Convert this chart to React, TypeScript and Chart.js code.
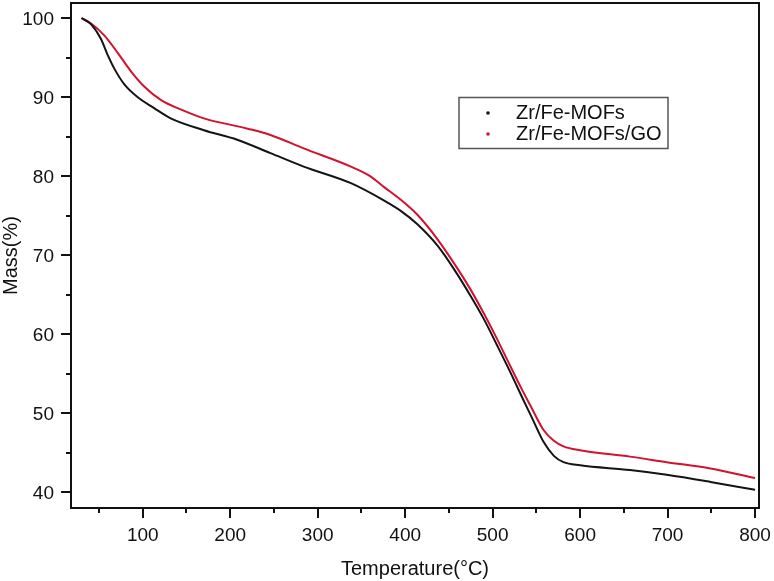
import React, { useEffect, useRef } from "react";
import { Chart, registerables } from "chart.js";

Chart.register(...registerables);

// Temperature (°C) and mass (%) readings
const blackT = [30, 41, 52, 60, 68, 79, 94, 113, 132, 170, 208, 246, 284, 338, 376, 395, 414, 437, 456, 475, 490, 505, 521, 535, 545, 558, 570, 581, 600, 657, 699, 749, 800];
const blackMass = [100, 99.2, 97.4, 95.3, 93.5, 91.6, 90.0, 88.6, 87.3, 85.8, 84.6, 82.9, 81.2, 79.1, 76.9, 75.6, 73.9, 71.2, 68.2, 64.8, 61.9, 58.6, 55.0, 51.7, 49.4, 46.4, 44.6, 43.8, 43.4, 42.8, 42.2, 41.3, 40.3];

const redT = [30, 41, 56, 72, 87, 102, 121, 144, 170, 220, 246, 284, 338, 360, 376, 395, 414, 437, 461, 475, 490, 505, 520, 533, 543, 558, 570, 581, 600, 657, 699, 749, 800];
const redMass = [100, 99.3, 97.8, 95.5, 93.2, 91.3, 89.6, 88.4, 87.3, 86.0, 85.2, 83.5, 81.2, 80.0, 78.6, 77.0, 75.1, 72.0, 68.1, 65.6, 62.6, 59.4, 56.0, 53.1, 51.0, 47.9, 46.5, 45.8, 45.3, 44.5, 43.8, 43.0, 41.8];

const seriesLabels = ["Zr/Fe-MOFs", "Zr/Fe-MOFs/GO"];
const seriesColors = ["#141414", "#d2122e"];

const xTicks = [50, 100, 150, 200, 250, 300, 350, 400, 450, 500, 550, 600, 650, 700, 750, 800];
const yTicks = [40, 45, 50, 55, 60, 65, 70, 75, 80, 85, 90, 95, 100];
const xMajorStep = 100;
const yMajorStep = 10;

const xTitle = "Temperature(°C)";
const yTitle = "Mass(%)";

const FONT = "Arial, 'Liberation Sans', sans-serif";

const framePlugin = {
  id: "frame",
  afterDraw(chart: any) {
    const { ctx, chartArea } = chart;
    const { left, right, top, bottom } = chartArea;
    const xs = chart.scales.x;
    const ys = chart.scales.y;
    ctx.save();
    ctx.strokeStyle = "#111";
    ctx.lineWidth = 2;
    ctx.strokeRect(left, top, right - left, bottom - top);
    ctx.beginPath();
    for (const v of xTicks) {
      const px = Math.round(xs.getPixelForValue(v));
      const len = v % xMajorStep === 0 ? 10 : 5;
      ctx.moveTo(px, bottom);
      ctx.lineTo(px, bottom + len);
    }
    for (const v of yTicks) {
      const py = Math.round(ys.getPixelForValue(v));
      const len = v % yMajorStep === 0 ? 10 : 5;
      ctx.moveTo(left, py);
      ctx.lineTo(left - len, py);
    }
    ctx.stroke();

    // tick labels
    ctx.fillStyle = "#111";
    ctx.font = `19px ${FONT}`;
    ctx.textBaseline = "alphabetic";
    ctx.textAlign = "center";
    for (const v of xTicks) {
      if (v % xMajorStep !== 0) continue;
      ctx.fillText(String(v), xs.getPixelForValue(v), bottom + 33);
    }
    ctx.textAlign = "right";
    for (const v of yTicks) {
      if (v % yMajorStep !== 0) continue;
      ctx.fillText(String(v), left - 17, ys.getPixelForValue(v) + 6.8);
    }

    // axis titles
    ctx.font = `20px ${FONT}`;
    ctx.textAlign = "center";
    ctx.fillText(xTitle, (left + right) / 2, 575);
    ctx.save();
    ctx.translate(17, (top + bottom) / 2);
    ctx.rotate(-Math.PI / 2);
    ctx.fillText(yTitle, 0, 0);
    ctx.restore();

    // legend
    ctx.strokeStyle = "#555";
    ctx.lineWidth = 1.5;
    ctx.strokeRect(459, 97.5, 209, 51);
    ctx.font = `20px ${FONT}`;
    ctx.textAlign = "left";
    ctx.textBaseline = "middle";
    chart.data.datasets.forEach((ds: any, i: number) => {
      const y = 113 + i * 21;
      ctx.fillStyle = ds.borderColor;
      ctx.beginPath();
      ctx.arc(488, y, 1.8, 0, Math.PI * 2);
      ctx.fill();
      ctx.fillStyle = "#111";
      ctx.fillText(ds.label, 516, y);
    });
    ctx.restore();
  },
};

export default function App() {
  const ref = useRef<HTMLCanvasElement>(null);
  useEffect(() => {
    const canvas = ref.current!;
    const chart = new Chart(canvas, {
      type: "line",
      data: {
        datasets: [
          {
            label: seriesLabels[0],
            data: blackT.map((t, i) => ({ x: t, y: blackMass[i] })),
            borderColor: seriesColors[0],
            backgroundColor: seriesColors[0],
            borderWidth: 2,
            pointRadius: 0,
            cubicInterpolationMode: "monotone",
          },
          {
            label: seriesLabels[1],
            data: redT.map((t, i) => ({ x: t, y: redMass[i] })),
            borderColor: seriesColors[1],
            backgroundColor: seriesColors[1],
            borderWidth: 2,
            pointRadius: 0,
            cubicInterpolationMode: "monotone",
          },
        ],
      },
      options: {
        responsive: false,
        animation: false,
        devicePixelRatio: 1,
        layout: { padding: { left: 71, right: 15, top: 3, bottom: 73 } },
        plugins: { legend: { display: false }, tooltip: { enabled: false } },
        scales: {
          x: { type: "linear", display: false, min: 18, max: 804.5 },
          y: { type: "linear", display: false, min: 38, max: 101.9 },
        },
      },
      plugins: [framePlugin],
    } as any);
    return () => chart.destroy();
  }, []);
  return (
    <div style={{ position: "absolute", left: 0, top: 0, width: 774, height: 581, background: "#fff" }}>
      <canvas ref={ref} width={774} height={581} />
    </div>
  );
}
